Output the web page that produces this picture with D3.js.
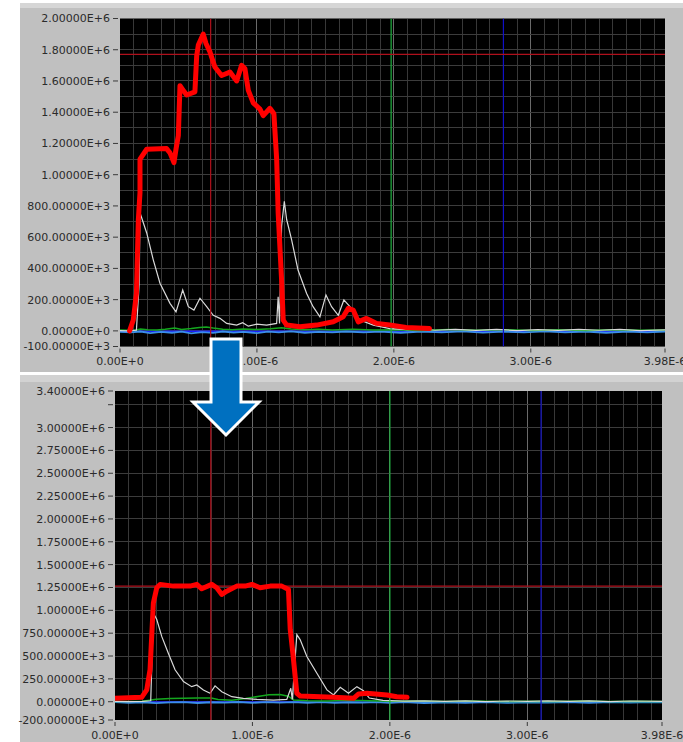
<!DOCTYPE html>
<html>
<head>
<meta charset="utf-8">
<script src="https://cdn.jsdelivr.net/npm/d3@7"></script>
<style>
  html, body { margin: 0; padding: 0; background: #ffffff; }
  svg { display: block; }
  text { font-family: "DejaVu Sans", Verdana, sans-serif; font-size: 11px; fill: #2b2b2b; }
</style>
</head>
<body>
<script>
// ---- time axis (seconds) ----
const xTicks = [0, 1e-6, 2e-6, 3e-6, 3.98e-6];

// ---- upper scope: before ----
const topYTicks = [-100e3, 0, 200e3, 400e3, 600e3, 800e3, 1.0e6, 1.2e6, 1.4e6, 1.6e6, 1.8e6, 2.0e6];
// pairs of [time in µs, value]
const topMain = [
  [0.07, 0], [0.097, 70e3], [0.12, 240e3], [0.134, 710e3], [0.146, 885e3], [0.146, 1.10e6],
  [0.195, 1.163e6], [0.34, 1.167e6], [0.365, 1.14e6], [0.394, 1.077e6], [0.409, 1.163e6],
  [0.426, 1.25e6], [0.438, 1.57e6], [0.462, 1.54e6], [0.487, 1.51e6], [0.547, 1.53e6],
  [0.56, 1.76e6], [0.572, 1.83e6], [0.608, 1.90e6], [0.628, 1.84e6], [0.657, 1.786e6],
  [0.693, 1.69e6], [0.742, 1.635e6], [0.803, 1.657e6], [0.852, 1.60e6], [0.888, 1.70e6],
  [0.912, 1.68e6], [0.937, 1.54e6], [0.973, 1.46e6], [1.022, 1.42e6], [1.046, 1.378e6],
  [1.095, 1.425e6], [1.124, 1.39e6], [1.144, 1.10e6], [1.155, 756e3], [1.18, 326e3],
  [1.192, 69e3], [1.217, 37e3], [1.314, 26e3], [1.436, 37e3], [1.557, 58e3], [1.63, 90e3],
  [1.667, 144e3], [1.703, 133e3], [1.74, 58e3], [1.80, 80e3], [1.874, 48e3], [1.97, 37e3],
  [2.09, 22e3], [2.26, 15e3]
];
const topWhite = [
  [0.0, 2e3], [0.06, 0], [0.12, 5e3], [0.14, 300e3], [0.146, 756e3], [0.195, 627e3], [0.243, 455e3],
  [0.292, 305e3], [0.365, 176e3], [0.409, 122e3], [0.458, 262e3], [0.499, 155e3], [0.54, 133e3],
  [0.584, 209e3], [0.633, 155e3], [0.681, 100e3], [0.73, 80e3], [0.779, 48e3], [0.852, 37e3],
  [0.896, 52e3], [0.937, 30e3], [0.998, 43e3], [1.071, 37e3], [1.144, 48e3], [1.155, 219e3],
  [1.165, 48e3], [1.18, 670e3], [1.20, 830e3], [1.217, 713e3], [1.253, 584e3], [1.30, 390e3],
  [1.363, 240e3], [1.41, 155e3], [1.46, 90e3], [1.504, 230e3], [1.545, 155e3], [1.594, 100e3],
  [1.635, 198e3], [1.679, 155e3], [1.752, 69e3], [1.85, 37e3], [1.97, 15e3], [2.1, 8e3],
  [2.2, 12e3], [2.3, 4e3], [2.45, 10e3], [2.6, 3e3], [2.75, 9e3], [2.9, 2e3], [3.05, 8e3],
  [3.2, 3e3], [3.35, 10e3], [3.5, 4e3], [3.65, 9e3], [3.8, 2e3], [3.98, 7e3]
];
const topGreen = [
  [0.0, 5e3], [0.1, 3e3], [0.15, 12e3], [0.2, 8e3], [0.27, 6e3], [0.33, 10e3], [0.4, 18e3],
  [0.45, 9e3], [0.52, 15e3], [0.58, 22e3], [0.63, 25e3], [0.68, 18e3], [0.75, 10e3],
  [0.82, 8e3], [0.9, 12e3], [1.0, 9e3], [1.1, 14e3], [1.18, 20e3], [1.25, 12e3], [1.35, 8e3],
  [1.45, 11e3], [1.55, 6e3], [1.7, 10e3], [1.85, 5e3], [2.0, 8e3], [2.2, 3e3], [2.4, 9e3],
  [2.6, 4e3], [2.8, 8e3], [3.0, 2e3], [3.2, 7e3], [3.4, 3e3], [3.6, 8e3], [3.8, 4e3], [3.98, 6e3]
];
const topCyan = [
  [0.0, -6e3], [0.08, -10e3], [0.15, -4e3], [0.22, -14e3], [0.3, -7e3], [0.38, -12e3],
  [0.45, -5e3], [0.52, -16e3], [0.6, -8e3], [0.68, -13e3], [0.75, -4e3], [0.83, -11e3],
  [0.9, -6e3], [1.0, -14e3], [1.08, -5e3], [1.16, -10e3], [1.25, -3e3], [1.35, -12e3],
  [1.45, -6e3], [1.55, -10e3], [1.65, -4e3], [1.78, -9e3], [1.9, -5e3], [2.05, -12e3],
  [2.2, -4e3], [2.35, -10e3], [2.5, -3e3], [2.65, -11e3], [2.8, -5e3], [2.95, -9e3],
  [3.1, -3e3], [3.25, -10e3], [3.4, -4e3], [3.55, -12e3], [3.7, -5e3], [3.85, -9e3], [3.98, -4e3]
];
const topBlue = [[0.0, -2e3], [3.98, -2e3]];
const topCursorsX = [0.662e-6, 1.98e-6, 2.80e-6];   // red, green, blue
const topCursorY = 1.77e6;

// ---- lower scope: after ----
const botYTicks = [-200e3, 0, 250e3, 500e3, 750e3, 1.0e6, 1.25e6, 1.5e6, 1.75e6, 2.0e6, 2.25e6, 2.5e6, 2.75e6, 3.0e6, 3.25e6, 3.4e6];
const botYUnlabelled = [3.25e6];
const botMain = [
  [0.0, 37e3], [0.194, 48e3], [0.231, 129e3], [0.255, 350e3], [0.267, 715e3], [0.279, 1.08e6],
  [0.304, 1.247e6], [0.328, 1.284e6], [0.425, 1.265e6], [0.546, 1.265e6], [0.595, 1.284e6],
  [0.631, 1.236e6], [0.704, 1.284e6], [0.74, 1.247e6], [0.777, 1.174e6], [0.813, 1.21e6],
  [0.886, 1.265e6], [0.947, 1.265e6], [0.996, 1.284e6], [1.056, 1.247e6], [1.129, 1.265e6],
  [1.214, 1.265e6], [1.262, 1.229e6], [1.275, 790e3], [1.294, 530e3], [1.311, 275e3],
  [1.323, 92e3], [1.347, 63e3], [1.59, 48e3], [1.736, 37e3], [1.773, 85e3], [1.833, 92e3],
  [1.979, 74e3], [2.05, 55e3], [2.125, 48e3]
];
const botWhite = [
  [0.0, 3e3], [0.1, 0], [0.2, 4e3], [0.26, 10e3], [0.279, 970e3], [0.304, 900e3], [0.34, 715e3],
  [0.388, 530e3], [0.437, 350e3], [0.498, 220e3], [0.558, 165e3], [0.595, 184e3], [0.643, 129e3],
  [0.692, 92e3], [0.728, 173e3], [0.777, 110e3], [0.85, 55e3], [0.934, 37e3], [1.032, 26e3],
  [1.153, 18e3], [1.25, 26e3], [1.279, 147e3], [1.29, 26e3], [1.323, 734e3], [1.347, 680e3],
  [1.396, 495e3], [1.469, 312e3], [1.542, 129e3], [1.59, 74e3], [1.639, 158e3], [1.699, 92e3],
  [1.76, 165e3], [1.808, 121e3], [1.85, 40e3], [1.95, 15e3], [2.1, 6e3], [2.25, 10e3],
  [2.4, 3e3], [2.55, 9e3], [2.7, 2e3], [2.85, 8e3], [3.0, 3e3], [3.15, 10e3], [3.3, 4e3],
  [3.45, 9e3], [3.6, 2e3], [3.75, 8e3], [3.98, 4e3]
];
const botGreen = [
  [0.0, 3e3], [0.2, 5e3], [0.3, 26e3], [0.4, 35e3], [0.5, 38e3], [0.6, 40e3], [0.7, 40e3],
  [0.75, 25e3], [0.85, 15e3], [0.95, 35e3], [1.05, 60e3], [1.12, 75e3], [1.2, 80e3],
  [1.26, 60e3], [1.3, 20e3], [1.4, 12e3], [1.55, 8e3], [1.7, 15e3], [1.85, 10e3], [2.0, 5e3],
  [2.2, 8e3], [2.4, 3e3], [2.6, 7e3], [2.8, 2e3], [3.0, 6e3], [3.2, 3e3], [3.4, 7e3],
  [3.6, 2e3], [3.8, 6e3], [3.98, 3e3]
];
const botCyan = [
  [0.0, -5e3], [0.1, -12e3], [0.2, -6e3], [0.3, -15e3], [0.4, -8e3], [0.5, -4e3],
  [0.6, -14e3], [0.7, -6e3], [0.8, -10e3], [0.9, -3e3], [1.0, -12e3], [1.1, -5e3],
  [1.2, -9e3], [1.3, -4e3], [1.4, -11e3], [1.5, -5e3], [1.6, -13e3], [1.7, -6e3],
  [1.8, -10e3], [1.9, -4e3], [2.0, -12e3], [2.1, -5e3], [2.25, -14e3], [2.4, -6e3],
  [2.55, -11e3], [2.7, -4e3], [2.85, -12e3], [3.0, -6e3], [3.15, -10e3], [3.3, -3e3],
  [3.45, -12e3], [3.6, -5e3], [3.75, -10e3], [3.9, -4e3], [3.98, -8e3]
];
const botBlue = [[0.0, -2e3], [3.98, -2e3]];
const botCursorsX = [0.697e-6, 2.0e-6, 3.10e-6];
const botCursorY = 1.265e6;

// ---- formatting helpers ----
function eng(v, digits) {
  if (Math.abs(v) < 1e-30) return (0).toFixed(digits) + "E+0";
  const e = Math.floor(Math.log10(Math.abs(v)) / 3 + 1e-9) * 3;
  const m = v / Math.pow(10, e);
  return m.toFixed(digits) + "E" + (e < 0 ? "-" : "+") + Math.abs(e);
}

const W = 683, H = 742;
const svg = d3.select("body").append("svg").attr("width", W).attr("height", H);

// panel backgrounds
svg.append("rect").attr("x", 20).attr("y", 3).attr("width", W - 20).attr("height", 369).attr("fill", "#c0c0c0");
svg.append("rect").attr("x", 20).attr("y", 3).attr("width", W - 20).attr("height", 5).attr("fill", "#d6d6d6");
svg.append("rect").attr("x", 20).attr("y", 375).attr("width", W - 20).attr("height", H - 375).attr("fill", "#c0c0c0");
svg.append("rect").attr("x", 20).attr("y", 375).attr("width", W - 20).attr("height", 7).attr("fill", "#d2d2d2");

const traceColors = { main: "#ff0000", white: "#d9d9d9", green: "#14a81e", cyan: "#3b8fe8", blue: "#1a1aff" };

function drawScope(cfg) {
  const g = svg.append("g");
  const x = d3.scaleLinear().domain([0, 3.98e-6]).range([cfg.left, cfg.right]);
  const y = d3.scaleLinear().domain(cfg.yDomain).range([cfg.bottom, cfg.top]);

  // plot area
  g.append("rect").attr("x", cfg.left).attr("y", cfg.top)
    .attr("width", cfg.right - cfg.left).attr("height", cfg.bottom - cfg.top).attr("fill", "#000");

  const clipId = "clip" + cfg.id;
  g.append("clipPath").attr("id", clipId).append("rect")
    .attr("x", cfg.left).attr("y", cfg.top)
    .attr("width", cfg.right - cfg.left).attr("height", cfg.bottom - cfg.top);
  const plot = g.append("g").attr("clip-path", `url(#${clipId})`);

  // grid
  const minorX = d3.range(1, 40).map(i => i * 0.1e-6);
  plot.selectAll(".gx").data(minorX).join("line")
    .attr("x1", d => x(d)).attr("x2", d => x(d)).attr("y1", cfg.top).attr("y2", cfg.bottom)
    .attr("stroke", d => (Math.abs(d / 1e-6 - Math.round(d / 1e-6)) < 1e-6) ? "#6a6a6a" : "#383838")
    .attr("stroke-width", 1).attr("shape-rendering", "crispEdges");
  plot.selectAll(".gy").data(cfg.gridY).join("line")
    .attr("x1", cfg.left).attr("x2", cfg.right).attr("y1", d => y(d)).attr("y2", d => y(d))
    .attr("stroke", "#3c3c3c").attr("stroke-width", 1).attr("shape-rendering", "crispEdges");

  const line = d3.line().x(d => x(d[0] * 1e-6)).y(d => y(d[1]));

  // traces
  plot.append("path").datum(cfg.blue).attr("d", line).attr("fill", "none")
    .attr("stroke", traceColors.blue).attr("stroke-width", 1.5);
  plot.append("path").datum(cfg.cyan).attr("d", line).attr("fill", "none")
    .attr("stroke", traceColors.cyan).attr("stroke-width", 1.8);
  plot.append("path").datum(cfg.green).attr("d", line).attr("fill", "none")
    .attr("stroke", traceColors.green).attr("stroke-width", 1.5);
  plot.append("path").datum(cfg.white).attr("d", line).attr("fill", "none")
    .attr("stroke", traceColors.white).attr("stroke-width", 1.2);

  // cursors
  const curColors = ["#b0101c", "#20b040", "#1010c8"];
  plot.selectAll(".cx").data(cfg.cursorsX).join("line")
    .attr("x1", d => x(d)).attr("x2", d => x(d)).attr("y1", cfg.top).attr("y2", cfg.bottom)
    .attr("stroke", (d, i) => curColors[i]).attr("stroke-width", 1.2);
  plot.append("line").attr("x1", cfg.left).attr("x2", cfg.right)
    .attr("y1", y(cfg.cursorY)).attr("y2", y(cfg.cursorY))
    .attr("stroke", curColors[0]).attr("stroke-width", 1.2);

  // main trace
  plot.append("path").datum(cfg.main).attr("d", line).attr("fill", "none")
    .attr("stroke", traceColors.main).attr("stroke-width", 5)
    .attr("stroke-linejoin", "round").attr("stroke-linecap", "round");

  // y axis ticks and labels
  const yt = g.selectAll(".yt").data(cfg.yTicks).join("g")
    .attr("transform", d => `translate(0,${y(d)})`);
  yt.append("line").attr("x1", cfg.left - 7).attr("x2", cfg.left - 2)
    .attr("stroke", "#3a3a3a").attr("stroke-width", 1);
  yt.filter(d => !cfg.yUnlabelled.includes(d)).append("text")
    .attr("x", cfg.left - 10).attr("dy", "0.36em").attr("text-anchor", "end")
    .text(d => eng(d, 5));

  // x axis ticks and labels
  const xt = g.selectAll(".xt").data(xTicks).join("g")
    .attr("transform", d => `translate(${x(d)},0)`);
  xt.append("line").attr("y1", cfg.bottom + 2).attr("y2", cfg.bottom + 6)
    .attr("stroke", "#3a3a3a").attr("stroke-width", 1);
  xt.append("text").attr("y", cfg.bottom + 15).attr("dy", "0.36em").attr("text-anchor", "middle")
    .text(d => eng(d, 2));
}

drawScope({
  id: "top", left: 120, right: 665, top: 18.5, bottom: 346.5,
  yDomain: [-100e3, 2.0e6], yTicks: topYTicks, yUnlabelled: [],
  gridY: d3.range(-1, 20).map(i => i * 100e3),
  main: topMain, white: topWhite, green: topGreen, cyan: topCyan, blue: topBlue,
  cursorsX: topCursorsX, cursorY: topCursorY
});

drawScope({
  id: "bot", left: 115, right: 662, top: 391, bottom: 720,
  yDomain: [-200e3, 3.4e6], yTicks: botYTicks, yUnlabelled: botYUnlabelled,
  gridY: d3.range(0, 14).map(i => i * 250e3),
  main: botMain, white: botWhite, green: botGreen, cyan: botCyan, blue: botBlue,
  cursorsX: botCursorsX, cursorY: botCursorY
});

// downward arrow between the two scopes
const arrow = [[211, 339], [241, 339], [241, 402], [259, 402], [226, 435], [193, 402], [211, 402]];
svg.append("path")
  .attr("d", d3.line()(arrow) + "Z")
  .attr("fill", "#0070c0").attr("stroke", "#ffffff").attr("stroke-width", 3)
  .attr("stroke-linejoin", "miter");
</script>
</body>
</html>
